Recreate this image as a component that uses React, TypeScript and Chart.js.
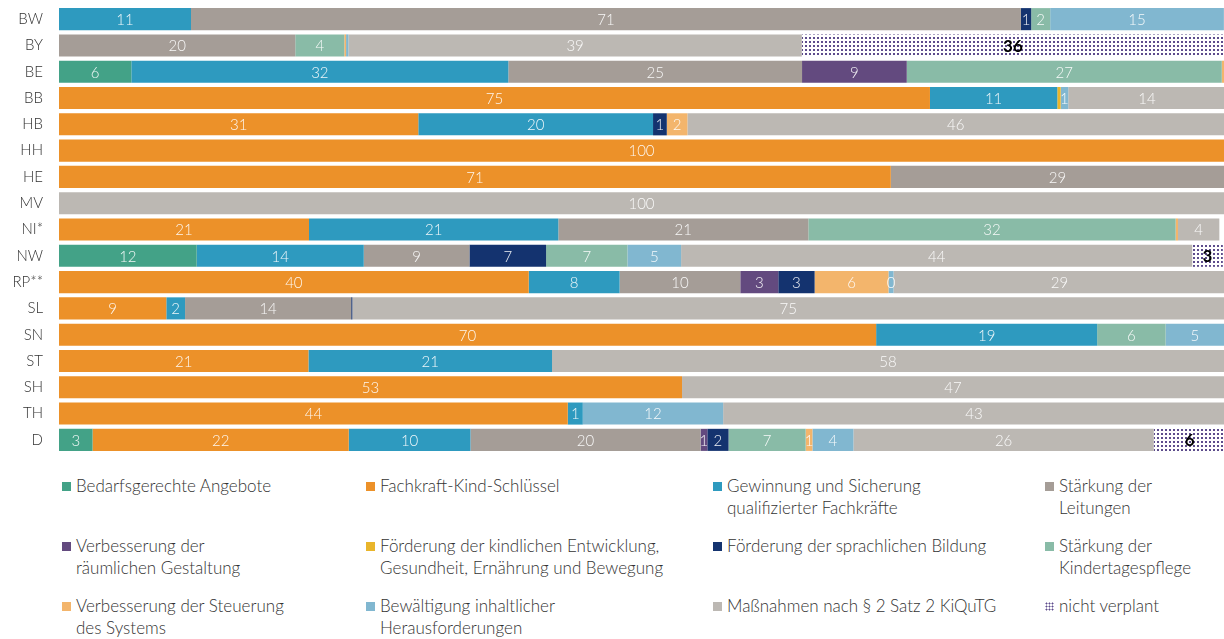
import React, { useEffect, useRef } from 'react';
import { Chart, registerables } from 'chart.js';

Chart.register(...registerables);

const categories = ['BW', 'BY', 'BE', 'BB', 'HB', 'HH', 'HE', 'MV', 'NI*', 'NW', 'RP**', 'SL', 'SN', 'ST', 'SH', 'TH', 'D'];

const seriesNames = [
  'Bedarfsgerechte Angebote',
  'Fachkraft-Kind-Schlüssel',
  'Gewinnung und Sicherung\nqualifizierter Fachkräfte',
  'Stärkung der\nLeitungen',
  'Verbesserung der\nräumlichen Gestaltung',
  'Förderung der kindlichen Entwicklung,\nGesundheit, Ernährung und Bewegung',
  'Förderung der sprachlichen Bildung',
  'Stärkung der\nKindertagespflege',
  'Verbesserung der Steuerung\ndes Systems',
  'Bewältigung inhaltlicher\nHerausforderungen',
  'Maßnahmen nach § 2 Satz 2 KiQuTG',
  'nicht verplant',
];

const seriesColors = [
  '#43A287', '#EC9129', '#2E9ABF', '#A59D97', '#634A7F', '#E9B52B',
  '#14336F', '#89BBA7', '#F3B56C', '#81B7D0', '#BCB8B3', 'pattern',
];

const bedarfsgerecht = [0, 0, 6.21, 0, 0, 0, 0, 0, 0, 11.82, 0, 0, 0, 0, 0, 0, 2.88];
const fachkraftKind = [0, 0, 0, 74.76, 30.84, 100, 71.4, 0, 21.46, 0, 40.32, 9.21, 70.14, 21.41, 53.48, 43.67, 21.99];
const gewinnung = [11.33, 0, 32.36, 10.93, 20.15, 0, 0, 0, 21.4, 14.34, 7.8, 1.61, 18.97, 20.91, 0, 1.29, 10.45];
const leitungen = [71.24, 20.28, 25.21, 0, 0, 0, 28.6, 0, 21.46, 9.07, 10.36, 14.26, 0, 0, 0, 0, 19.75];
const raeumlich = [0, 0, 8.99, 0, 0, 0, 0, 0, 0, 0, 3.26, 0, 0, 0, 0, 0, 0.58];
const kindlicheEntwicklung = [0, 0, 0, 0.29, 0, 0, 0, 0, 0, 0, 0, 0, 0, 0, 0, 0, 0];
const sprachlich = [0.88, 0, 0, 0, 1.18, 0, 0, 0, 0, 6.58, 3.12, 0.1, 0, 0, 0, 0, 1.82];
const kindertagespflege = [1.63, 4.21, 27.04, 0, 0, 0, 0, 0, 31.53, 6.98, 0, 0, 5.88, 0, 0, 0, 6.62];
const steuerung = [0, 0.15, 0.2, 0, 1.77, 0, 0, 0, 0.2, 0, 6.34, 0, 0, 0, 0, 0, 0.58];
const herausforderungen = [14.91, 0.2, 0, 0.65, 0, 0, 0, 0, 0, 4.61, 0.43, 0, 5.02, 0, 0, 12.05, 3.52];
const massnahmen = [0, 38.92, 0, 13.5, 46.07, 0, 0, 100, 3.55, 43.87, 28.5, 74.82, 0, 57.68, 46.52, 43.05, 25.78];
const nichtVerplant = [0, 36.25, 0, 0, 0, 0, 0, 0, 0, 2.63, 0, 0, 0, 0, 0, 0, 6.15];

const seriesValues = [
  bedarfsgerecht, fachkraftKind, gewinnung, leitungen, raeumlich, kindlicheEntwicklung,
  sprachlich, kindertagespflege, steuerung, herausforderungen, massnahmen, nichtVerplant,
];

const FONT = 'Lato, "Source Sans Pro", "Open Sans", sans-serif';
const DOT = '#5d4c8c';

function makeDotPattern(ctx: CanvasRenderingContext2D) {
  const c = document.createElement('canvas');
  c.width = 4;
  c.height = 4;
  const g = c.getContext('2d')!;
  g.fillStyle = '#ffffff';
  g.fillRect(0, 0, 4, 4);
  g.fillStyle = DOT;
  g.fillRect(1, 1, 2, 2);
  return ctx.createPattern(c, 'repeat');
}

const segmentLabels = {
  id: 'segmentLabels',
  afterDatasetsDraw(chart: any) {
    const ctx = chart.ctx;
    ctx.save();
    ctx.textAlign = 'center';
    ctx.textBaseline = 'middle';
    chart.data.datasets.forEach((ds: any, di: number) => {
      const meta = chart.getDatasetMeta(di);
      const isPattern = seriesColors[di] === 'pattern';
      meta.data.forEach((bar: any, i: number) => {
        const v = ds.data[i];
        if (!(v >= 0.4)) return;
        const p = bar.getProps(['x', 'y', 'base'], true);
        const cx = (p.x + p.base) / 2;
        if (isPattern) {
          ctx.font = `bold 17px ${FONT}`;
          ctx.fillStyle = '#000000';
        } else {
          ctx.font = `300 15px ${FONT}`;
          ctx.fillStyle = 'rgba(255,255,255,0.92)';
        }
        ctx.fillText(String(Math.round(v)), cx, p.y + 1);
      });
    });
    ctx.restore();
  },
};

export default function App() {
  const canvasRef = useRef<HTMLCanvasElement | null>(null);

  useEffect(() => {
    const canvas = canvasRef.current!;
    const ctx = canvas.getContext('2d')!;
    const pattern = makeDotPattern(ctx);
    const chart = new Chart(canvas, {
      type: 'bar',
      data: {
        labels: categories,
        datasets: seriesValues.map((vals, i) => ({
          label: seriesNames[i].replace('\n', ' '),
          data: vals,
          backgroundColor: seriesColors[i] === 'pattern' ? (pattern as any) : seriesColors[i],
          borderWidth: 0,
          barPercentage: 0.84,
          categoryPercentage: 1,
        })),
      },
      options: {
        indexAxis: 'y',
        responsive: false,
        animation: false,
        devicePixelRatio: 1,
        layout: { padding: { top: 6, bottom: 7, left: 0, right: 0 } },
        plugins: {
          legend: { display: false },
          tooltip: { enabled: false },
        },
        scales: {
          x: {
            stacked: true,
            min: 0,
            max: 100,
            display: false,
          },
          y: {
            stacked: true,
            grid: { display: false, drawTicks: false },
            border: { display: false },
            ticks: {
              color: '#333333',
              font: { family: FONT, size: 15, weight: '300' },
              padding: 16,
            },
            afterFit(scale: any) {
              scale.width = 59;
              scale.paddingTop = 0;
              scale.paddingBottom = 0;
            },
          },
        },
      },
      plugins: [segmentLabels],
    });
    return () => chart.destroy();
  }, []);

  const colLefts = [62, 366, 713, 1045];
  const rowTops = [475, 535, 595];

  return (
    <div style={{ position: 'absolute', left: 0, top: 0, width: 1224, height: 639, background: '#fff' }}>
      <canvas ref={canvasRef} width={1224} height={460} style={{ position: 'absolute', left: 0, top: 0, width: 1224, height: 460 }} />
      {seriesNames.map((name, i) => {
        const col = i % 4;
        const row = Math.floor(i / 4);
        const isPattern = seriesColors[i] === 'pattern';
        return (
          <div
            key={i}
            style={{
              position: 'absolute',
              left: colLefts[col],
              top: rowTops[row],
              fontFamily: FONT,
              fontWeight: 300,
              fontSize: 17,
              lineHeight: '22px',
              color: '#333333',
              whiteSpace: 'pre',
            }}
          >
            <span
              style={{
                position: 'absolute',
                left: 0,
                top: 7,
                width: 9,
                height: 9,
                background: isPattern ? undefined : seriesColors[i],
                backgroundImage: isPattern ? `radial-gradient(${DOT} 0.9px, transparent 1.1px)` : undefined,
                backgroundSize: isPattern ? '3px 3px' : undefined,
              }}
            />
            <div style={{ marginLeft: 14 }}>{name}</div>
          </div>
        );
      })}
    </div>
  );
}
